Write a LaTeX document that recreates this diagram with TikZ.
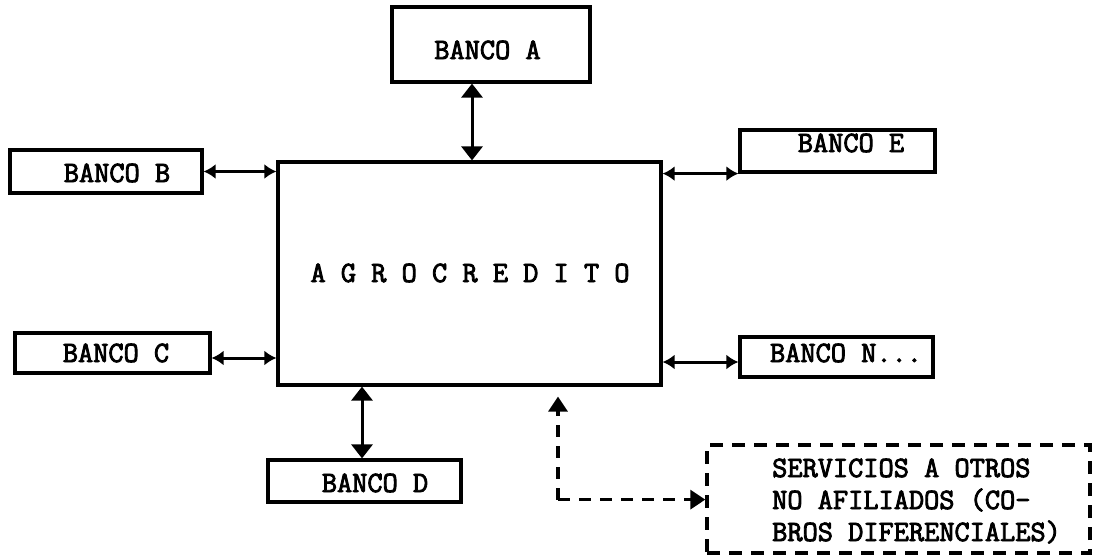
\documentclass[tikz,border=0pt]{standalone}
\usepackage{fontspec}
\newfontfamily\typewriter{Latin Modern Mono}[FakeBold=3]
\usetikzlibrary{arrows.meta}
\begin{document}
\begin{tikzpicture}[x=1pt,y=-1pt,
  box/.style={draw,line width=3.2pt,rectangle,inner sep=0pt},
  lbl/.style={anchor=base,inner sep=0pt,font=\fontsize{29.5}{32}\selectfont\typewriter},
  lblw/.style={anchor=base west,inner sep=0pt,font=\fontsize{29.5}{32}\selectfont\typewriter},
  link/.style={line width=3pt,{Triangle[length=14pt,width=21pt]}-{Triangle[length=14pt,width=21pt]}},
  sidelink/.style={line width=3pt,{Latex[length=12pt,width=15pt]}-{Latex[length=12pt,width=15pt]}},
  dashlink/.style={line width=3.4pt,dash pattern=on 12pt off 9pt,-{Triangle[length=15pt,width=19pt]}},
  dashbox/.style={draw,line width=3.4pt,dash pattern=on 13pt off 9pt,rectangle,inner sep=0pt}]
\useasboundingbox (0,0) rectangle (1099,557);

% central institution
\node[box,minimum width=383pt,minimum height=223pt] (agro) at (469.5,273.5) {};
\node[lbl] (tagro) at (470,282) {A G R O C R E D I T O};

% member banks
\node[box,minimum width=198pt,minimum height=75pt] (A) at (491,44.5) {};
\node[lbl] (tA) at (487.5,59) {BANCO A};
\node[box,minimum width=192pt,minimum height=43pt] (B) at (106,171.5) {};
\node[lbl] (tB) at (117,182) {BANCO B};
\node[box,minimum width=195pt,minimum height=40pt] (C) at (112.5,353) {};
\node[lbl] (tC) at (116,362) {BANCO C};
\node[box,minimum width=193pt,minimum height=42pt] (D) at (364.5,481) {};
\node[lbl] (tD) at (375,492) {BANCO D};
\node[box,minimum width=195pt,minimum height=42pt] (E) at (837.5,151) {};
\node[lbl] (tE) at (851,152) {BANCO E};
\node[box,minimum width=193pt,minimum height=40pt] (N) at (836.5,357) {};
\node[lbl] (tN) at (846,362) {BANCO N...};

% services to non-members
\node[dashbox,minimum width=383pt,minimum height=108pt] (S) at (898.5,499) {};
\node[lblw] (s1) at (772,477) {SERVICIOS A OTROS};
\node[lblw] (s2) at (772,509) {NO AFILIADOS (CO-};
\node[lblw] (s3) at (772,541) {BROS DIFERENCIALES)};

% connections (shifts are in page direction: negative yshift moves down)
\draw[link] ([xshift=-19pt]A.south) -- ([xshift=-19pt]A.south |- agro.north);
\draw[link] ([xshift=-107.5pt]agro.south) -- ([xshift=-2.5pt]D.north);
\draw[sidelink] (B.east) -- (B.east -| agro.west);
\draw[sidelink] ([yshift=-5pt]C.east) -- ([yshift=-5pt]C.east -| agro.west);
\draw[sidelink] (E.south west -| agro.east) -- (E.south west);
\draw[sidelink] ([yshift=-5pt]N.west -| agro.east) -- ([yshift=-5pt]N.west);

\coordinate (bend) at ([xshift=88.5pt,yshift=-113pt]agro.south);
\draw[dashlink] (bend) -- ([xshift=88.5pt,yshift=-10pt]agro.south);
\draw[dashlink] (bend) -- (bend -| S.west);
\end{tikzpicture}
\end{document}
